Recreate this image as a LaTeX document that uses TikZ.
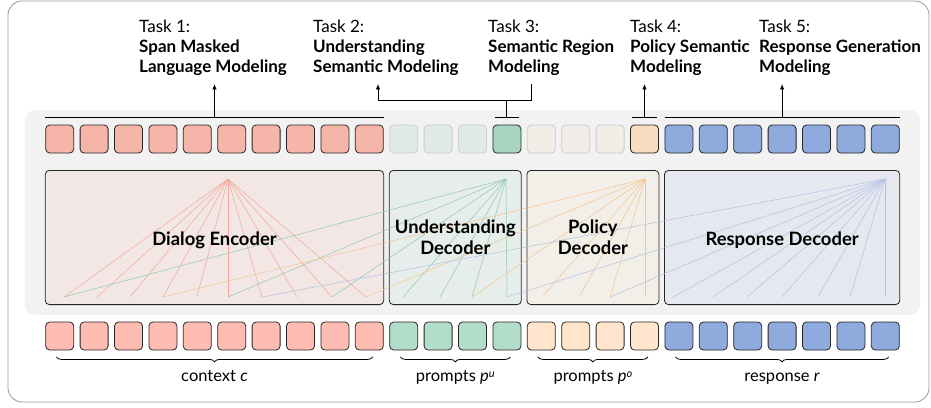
\documentclass[tikz,border=0pt]{standalone}
\usepackage{fontspec}
\setmainfont{Lato}
\usetikzlibrary{positioning,arrows.meta,calc,fit,decorations.pathreplacing}
\definecolor{redtop}{HTML}{F6B5A9}
\definecolor{redbot}{HTML}{FFBCB2}
\definecolor{greentop}{HTML}{A8D5BF}
\definecolor{greenbot}{HTML}{B2DDC8}
\definecolor{greenfade}{HTML}{E1EAE5}
\definecolor{orangetop}{HTML}{F8DCBF}
\definecolor{orangebot}{HTML}{FFE6CC}
\definecolor{orangefade}{HTML}{F1EDE7}
\definecolor{bluetok}{HTML}{8FAADC}
\definecolor{encfill}{HTML}{F2E7E5}
\definecolor{undfill}{HTML}{E6EDEA}
\definecolor{polfill}{HTML}{F2EEE8}
\definecolor{resfill}{HTML}{E6E8EF}
\definecolor{panelgray}{HTML}{F2F2F2}
\definecolor{fanred}{HTML}{F4A595}
\definecolor{fangreen}{HTML}{8ECAAC}
\definecolor{fanorange}{HTML}{F6C48C}
\definecolor{fanblue}{HTML}{B0C1E5}

\begin{document}
\begin{tikzpicture}
[
  x=1pt, y=-1pt,
  token/.style={draw=black!85, line width=0.8pt, rounded corners=4pt, fill=#1, minimum width=28pt, minimum height=28pt, inner sep=0pt},
  faded token/.style={token=#1, draw=black!20},
  coder/.style={draw=black!85, line width=0.8pt, rounded corners=4pt, fill=#1, inner sep=0pt},
  coder label/.style={font=\fontsize{18.4}{21}\selectfont\bfseries, align=center},
  task label/.style={font=\fontsize{17}{20}\selectfont, align=left, anchor=north west, inner sep=0pt},
  part label/.style={font=\fontsize{16.5}{18}\selectfont, anchor=base, inner sep=0pt, yshift=-25pt},
  bar/.style={line width=1.1pt},
  task arrow/.style={line width=0.9pt, -{Latex[length=5.5pt,width=4.5pt]}},
  brace/.style={decorate, decoration={brace, mirror, amplitude=5pt}, line width=0.8pt},
  fan/.style={line width=0.5pt, draw=#1}
]
\useasboundingbox (0,0) rectangle (931,407);
\draw[black!40, line width=0.8pt, rounded corners=14pt] (8,1) rectangle (929,402);
\fill[panelgray, rounded corners=10pt] (25,110) rectangle (920,315);

% top row of tokens
\foreach \i in {1,...,10}
  \node (t\i) [token=redtop] at ({59.7+34.4*(\i-1)},139) {};
\foreach \i in {11,12,13}
  \node (t\i) [faded token=greenfade] at ({59.7+34.4*(\i-1)},139) {};
\node (t14) [token=greentop] at ({59.7+34.4*13},139) {};
\foreach \i in {15,16,17}
  \node (t\i) [faded token=orangefade] at ({59.7+34.4*(\i-1)},139) {};
\node (t18) [token=orangetop] at ({59.7+34.4*17},139) {};
\foreach \i in {19,...,25}
  \node (t\i) [token=bluetok] at ({59.7+34.4*(\i-1)},139) {};

% bottom row of tokens
\foreach \i in {1,...,10}
  \node (b\i) [token=redbot] at ({59.7+34.4*(\i-1)},336) {};
\foreach \i in {11,...,14}
  \node (b\i) [token=greenbot] at ({59.7+34.4*(\i-1)},336) {};
\foreach \i in {15,...,18}
  \node (b\i) [token=orangebot] at ({59.7+34.4*(\i-1)},336) {};
\foreach \i in {19,...,25}
  \node (b\i) [token=bluetok] at ({59.7+34.4*(\i-1)},336) {};

% encoder and decoders
\node (enc) [coder=encfill, fit={([yshift=-17pt]t1.south west) ([yshift=17pt]b10.north east)}] {};
\node (und) [coder=undfill, fit={([yshift=-17pt]t11.south west) ([yshift=17pt]b14.north east)}] {};
\node (pol) [coder=polfill, fit={([yshift=-17pt]t15.south west) ([yshift=17pt]b18.north east)}] {};
\node (res) [coder=resfill, fit={([yshift=-17pt]t19.south west) ([yshift=17pt]b25.north east)}] {};

% attention fans
\coordinate (ea) at (228,179);
\coordinate (ua) at (506,179);
\coordinate (pa) at (645,179);
\coordinate (ra) at (885,179);
\foreach \x [count=\i] in {64,97,130,163,197,228,262,297,332,366}
  \coordinate (e\i) at (\x,297);
\foreach \x [count=\i] in {403,440,472,507}
  \coordinate (u\i) at (\x,297);
\foreach \x [count=\i] in {542,579,610,645}
  \coordinate (p\i) at (\x,297);
\foreach \x [count=\i] in {673,713,747,782,818,850,885}
  \coordinate (r\i) at (\x,297);
\foreach \i in {1,...,10}
  \draw [fan=fanred] (ea) -- (e\i);
\foreach \p in {e1,e6,e9,u1,u2,u3,u4}
  \draw [fan=fangreen] (ua) -- (\p);
\foreach \p in {e4,e10,u3,p1,p2,p3,p4}
  \draw [fan=fanorange] (pa) -- (\p);
\foreach \p in {e7,u4,p3,r1,r2,r3,r4,r5,r6,r7}
  \draw [fan=fanblue] (ra) -- (\p);

\node (enc label) [coder label, yshift=-3pt] at (enc) {Dialog Encoder};
\node (und label) [coder label] at (und) {Understanding\\Decoder};
\node (pol label) [coder label] at (pol) {Policy\\Decoder};
\node (res label) [coder label, yshift=-3pt] at (res) {Response Decoder};

% tasks
\node (task1) [task label] at (139,20) {Task 1:\\\textbf{Span Masked}\\\textbf{Language Modeling}};
\node (task2) [task label] at (313,20) {Task 2:\\\textbf{Understanding}\\\textbf{Semantic Modeling}};
\node (task3) [task label] at (488,20) {Task 3:\\\textbf{Semantic Region}\\\textbf{Modeling}};
\node (task4) [task label] at (630,20) {Task 4:\\\textbf{Policy Semantic}\\\textbf{Modeling}};
\node (task5) [task label] at (759,20) {Task 5:\\\textbf{Response Generation}\\\textbf{Modeling}};

\draw [bar] ([yshift=7pt]t1.north west) -- coordinate (m1) ([yshift=7pt]t10.north east);
\draw [task arrow, shorten >=8pt] (m1) -- (m1 |- task1.south);

\draw [bar] ([xshift=2pt,yshift=7pt]t14.north west) -- coordinate (m14) ([xshift=-2pt,yshift=7pt]t14.north east);
\coordinate (j2) at (378,100);
\coordinate (j3) at (531,100);
\draw [line width=0.9pt] (m14) -- (m14 |- j2);
\draw [task arrow, {Latex[length=5.5pt,width=4.5pt]}-, shorten <=8pt, shorten >=8pt] (j2 |- task2.south) -- (j2) -- (j3) -- (j3 |- task3.south);

\draw [bar] ([xshift=2pt,yshift=7pt]t18.north west) -- coordinate (m18) ([xshift=-2pt,yshift=7pt]t18.north east);
\draw [task arrow, shorten >=8pt] (m18) -- (m18 |- task4.south);

\draw [bar] ([yshift=7pt]t19.north west) -- coordinate (m19) ([yshift=7pt]t25.north east);
\draw [task arrow, shorten >=8pt] (m19) -- (m19 |- task5.south);

% inputs
\draw [brace] ([xshift=11pt,yshift=-6.5pt]b1.south west) -- node (ctx) [part label] {context \textit{c}} ([xshift=-11pt,yshift=-6.5pt]b10.south east);
\draw [brace] ([xshift=11pt,yshift=-6.5pt]b11.south west) -- node (pu) [part label] {prompts \textit{p}\raisebox{4.5pt}{\fontsize{11}{11}\selectfont\itshape u}} ([xshift=-11pt,yshift=-6.5pt]b14.south east);
\draw [brace] ([xshift=11pt,yshift=-6.5pt]b15.south west) -- node (po) [part label] {prompts \textit{p}\raisebox{4.5pt}{\fontsize{11}{11}\selectfont\itshape o}} ([xshift=-11pt,yshift=-6.5pt]b18.south east);
\draw [brace] ([xshift=11pt,yshift=-6.5pt]b19.south west) -- node (rsp) [part label] {response \textit{r}} ([xshift=-11pt,yshift=-6.5pt]b25.south east);
\end{tikzpicture}
\end{document}
